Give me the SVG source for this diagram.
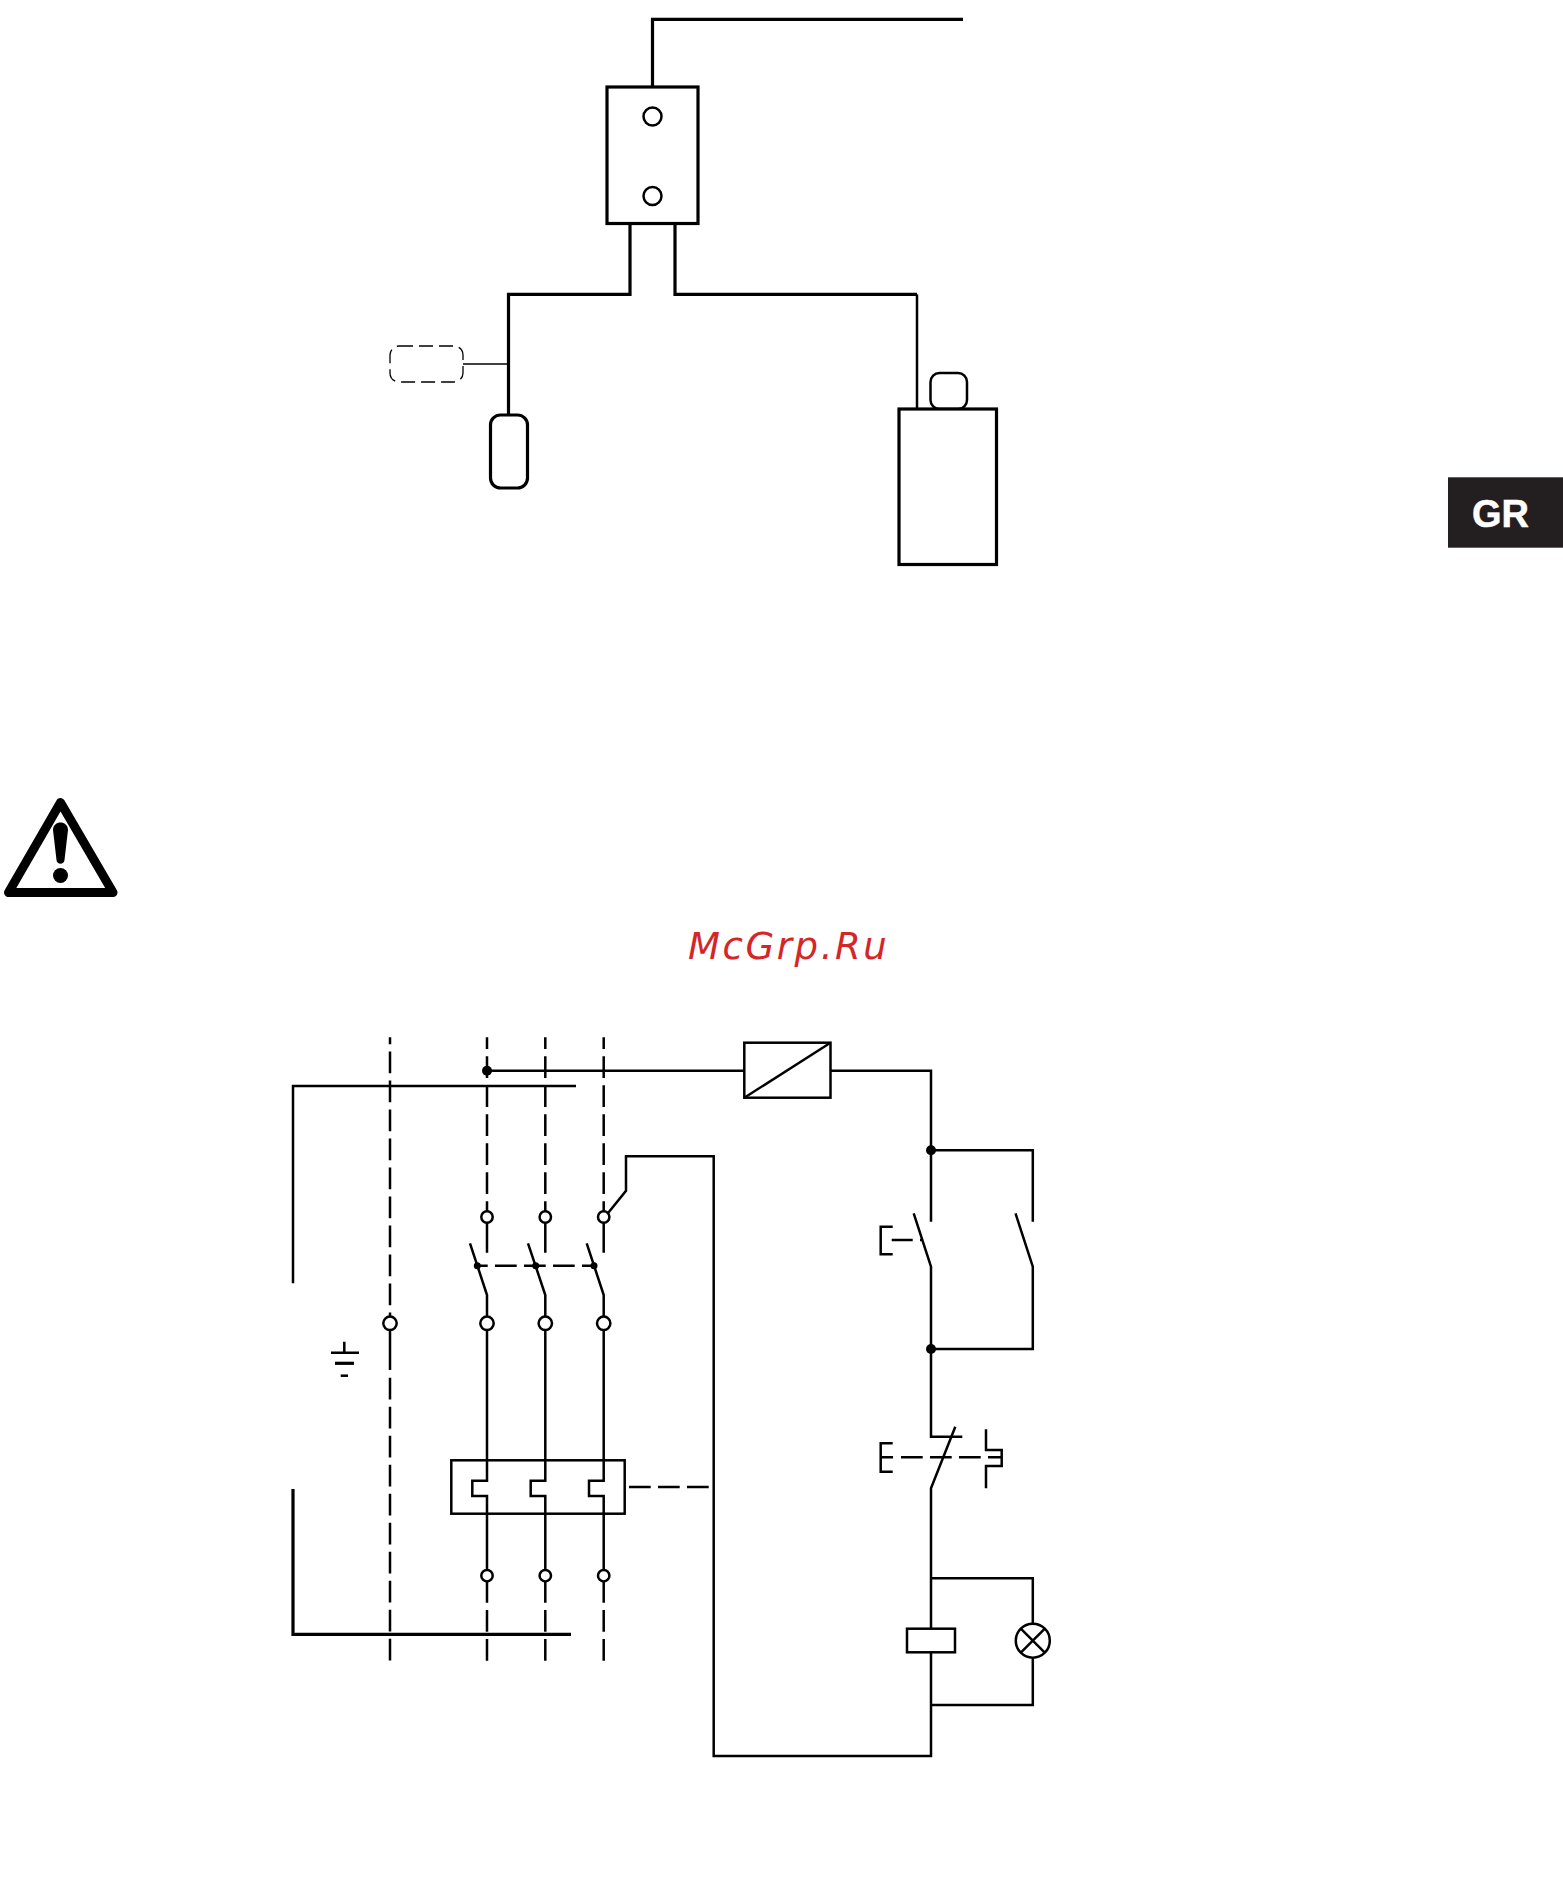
<svg xmlns="http://www.w3.org/2000/svg" width="1563" height="1889" viewBox="0 0 1563 1889">
<defs><style>
.l{fill:none;stroke:#000;stroke-width:2.5;stroke-linecap:butt;stroke-linejoin:miter}
.t{fill:none;stroke:#000;stroke-width:3.2;stroke-linejoin:miter}
.n{fill:#fff;stroke:#000;stroke-width:2.5}
.nt{fill:#fff;stroke:#000;stroke-width:3.2}
.d{fill:none;stroke:#000;stroke-width:2.5;stroke-dasharray:21.7 7.3}
.dot{fill:#000}
</style></defs>
<rect width="1563" height="1889" fill="#fff"/>
<g id="connectors">
<path class="t" d="M652.5 87V19.3H963"/>
<path class="t" d="M630 223.5V294.4H508.5V415"/>
<path class="t" d="M675 223.5V294.4H917"/>
<path class="l" d="M917 294.4V409"/>
<path d="M463 364H509" fill="none" stroke="#000" stroke-width="1.6"/>
<path class="l" d="M293 1283.3V1086H576"/>
<path class="t" d="M293 1489V1634.3H571"/>
<path class="d" stroke-dashoffset="14.7" d="M390 1037.3V1317"/>
<path class="d" d="M390 1377.7V1661"/>
<path class="l" d="M390 1330V1370"/>
<path class="d" stroke-dashoffset="10" d="M487 1037.3V1211.5"/>
<path class="d" stroke-dashoffset="10" d="M545.3 1037.3V1211.5"/>
<path class="d" stroke-dashoffset="10" d="M603.7 1037.3V1211.5"/>
<path class="l" d="M487 1223V1252.7M545.3 1223V1252.7M603.7 1223V1252.7"/>
<path class="l" d="M470 1243.3L487 1295V1316.5M528 1243.3L545.3 1295V1316.5M586.7 1243.3L603.7 1295V1316.5"/>
<path class="d" stroke-dashoffset="11.3" d="M477.3 1265.7H594"/>
<path class="l" d="M487 1330V1480.7H472.3V1496H487V1570M545.3 1330V1480.7H530.7V1496H545.3V1570M603.7 1330V1480.7H589V1496H603.7V1570"/>
<path class="l" d="M487 1581.7V1602.7M545.3 1581.7V1602.7M603.7 1581.7V1602.7"/>
<path class="d" d="M487 1610V1661M545.3 1610V1661M603.7 1610V1661"/>
<path class="l" d="M487 1070.7H744.3"/>
<path class="l" d="M831 1070.7H931V1221.7"/>
<path class="l" d="M931 1150.3H1032.8V1221.7"/>
<path class="l" d="M913.7 1213.3L931 1266.7V1436.7H962.3"/>
<path class="l" d="M1015.5 1213.3L1032.8 1266.7V1349H931"/>
<path class="l" d="M891.7 1240H912.7M920 1240H923"/>
<path class="l" d="M955.3 1426.7L931 1488.3V1756H713.7V1156.3H626V1190.7L608.3 1212.7"/>
<path class="d" d="M901 1457.3H1001"/>
<path class="d" d="M629 1487H709.3"/>
<path class="l" d="M931 1578.3H1032.8V1623M1032.8 1658.5V1705H931"/>
</g>
<g id="relay-box">
<rect class="nt" x="607" y="87" width="91" height="136.5"/>
<circle class="n" cx="652.5" cy="116.5" r="9"/>
<circle class="n" cx="652.5" cy="196" r="9"/>
</g>
<g id="sensor-dashed"><rect x="390" y="346" width="73" height="36" rx="9" fill="#fff" stroke="#000" stroke-width="1.3" stroke-dasharray="14 6"/></g>
<g id="sensor"><rect class="nt" x="490.5" y="415" width="37" height="73" rx="10"/></g>
<g id="pump-head"><rect class="n" x="930.5" y="373" width="36.5" height="36" rx="9"/></g>
<g id="pump"><rect class="nt" x="899" y="409" width="97.5" height="155.5"/></g>
<g id="gr-tab"><rect x="1448" y="477.3" width="115" height="70.4" fill="#231f20"/><text x="1472" y="527.3" font-family="Liberation Sans, Arial, sans-serif" font-weight="700" font-size="38" fill="#fff" stroke="#fff" stroke-width="0.5">GR</text></g>
<g id="warning">
<path d="M60.5 802.5L8.5 892.5H113Z" fill="none" stroke="#000" stroke-width="9" stroke-linejoin="round"/>
<path d="M53 830C53 820 68 820 68 830L64.5 860C64 865 57 865 56.5 860Z" fill="#000"/>
<circle cx="60.5" cy="875.5" r="7.5" fill="#000"/>
</g>
<g id="watermark"><text x="688" y="959" font-family="DejaVu Sans, sans-serif" font-style="italic" font-size="37" letter-spacing="2.6" fill="#d42626">McGrp.Ru</text></g>
<g id="dot-line"><circle class="dot" cx="487" cy="1070.7" r="5"/></g>
<g id="transformer">
<rect class="l" x="744.3" y="1042.7" width="86.2" height="55"/>
<path class="l" d="M744.3 1097.7L830.5 1042.7"/>
</g>
<g id="terminals-top">
<circle class="n" cx="487" cy="1217" r="5.7"/><circle class="n" cx="545.3" cy="1217" r="5.7"/><circle class="n" cx="603.7" cy="1217" r="5.7"/>
</g>
<g id="linkage-dots">
<circle class="dot" cx="477.3" cy="1265.7" r="3.5"/><circle class="dot" cx="535.7" cy="1265.7" r="3.5"/><circle class="dot" cx="594" cy="1265.7" r="3.5"/>
</g>
<g id="terminals-mid">
<circle class="n" cx="390" cy="1323.3" r="6.7"/><circle class="n" cx="487" cy="1323.3" r="6.7"/><circle class="n" cx="545.3" cy="1323.3" r="6.7"/><circle class="n" cx="603.7" cy="1323.3" r="6.7"/>
</g>
<g id="ground">
<path class="l" d="M344.3 1341.7V1352.7M331 1352.7H359"/>
<path class="t" d="M335 1363.3H354"/>
<path class="l" d="M340.7 1375.7H348"/>
</g>
<g id="overload"><rect class="l" x="451.3" y="1460.3" width="173.4" height="53.4"/></g>
<g id="terminals-bottom">
<circle class="n" cx="487" cy="1575.7" r="5.7"/><circle class="n" cx="545.3" cy="1575.7" r="5.7"/><circle class="n" cx="603.7" cy="1575.7" r="5.7"/>
</g>
<g id="junctions"><circle class="dot" cx="931" cy="1150.3" r="5"/><circle class="dot" cx="931" cy="1349" r="5"/></g>
<g id="start-button"><path class="l" d="M892.7 1226.7H880.7V1254.3H892.7"/></g>
<g id="stop-button">
<path class="l" d="M892.7 1443.3H880.7V1471.7H892.7M880.7 1457.3H893"/>
<path class="l" d="M986 1429.3V1450H1001.7V1466H986V1488.3"/>
</g>
<g id="coil"><rect class="l" style="fill:#fff" x="907" y="1628.7" width="48" height="23.6"/></g>
<g id="lamp">
<circle class="n" cx="1032.8" cy="1640.7" r="17"/>
<path class="l" d="M1020.8 1628.7L1044.8 1652.7M1044.8 1628.7L1020.8 1652.7"/>
</g>
</svg>
